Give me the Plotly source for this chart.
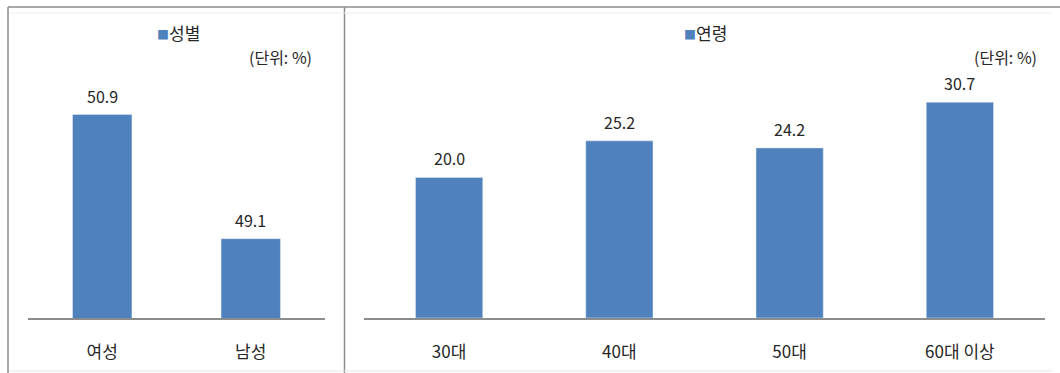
import plotly.graph_objects as go

# Data
gender_labels = ["여성", "남성"]
gender_values = [50.9, 49.1]
age_labels = ["30대", "40대", "50대", "60대 이상"]
age_values = [20.0, 25.2, 24.2, 30.7]

W, H = 1060, 373
BAR = "#4F81BD"
FONT = "Noto Sans CJK KR"
TXT = "#262626"

def px(x):
    return x / W

def py(y):
    return (H - y) / H

fig = go.Figure()
fig.add_trace(go.Bar(
    x=gender_labels, y=gender_values, marker_color=BAR, width=0.4,
    cliponaxis=False, xaxis="x", yaxis="y", showlegend=False, hoverinfo="skip",
))
fig.add_trace(go.Bar(
    x=age_labels, y=age_values, marker_color=BAR, width=0.395,
    cliponaxis=False, xaxis="x2", yaxis="y2", showlegend=False, hoverinfo="skip",
))

ydom = [py(318), py(78)]
axis_common = dict(showgrid=False, zeroline=False, ticks="", showline=False)
xcommon = dict(showline=True, linecolor="#8c8c8c", linewidth=1.5, showgrid=False, ticks="",
               tickfont=dict(size=17, color=TXT), ticklabelstandoff=18)
fig.update_layout(
    width=W, height=H,
    margin=dict(l=0, r=0, t=0, b=0),
    paper_bgcolor="white", plot_bgcolor="white",
    font=dict(family=FONT, color=TXT),
    xaxis=dict(domain=[px(28), px(325)], anchor="y", **xcommon),
    yaxis=dict(domain=ydom, range=[47.95, 51.43], showticklabels=False, anchor="x", **axis_common),
    xaxis2=dict(domain=[px(364), px(1045)], anchor="y2", **xcommon),
    yaxis2=dict(domain=ydom, range=[0, 34.14], showticklabels=False, anchor="x2", **axis_common),
    bargap=0.6,
)

# Borders
shapes = [
    dict(type="line", xref="paper", yref="paper", x0=px(8), x1=1, y0=py(7), y1=py(7),
         line=dict(color="#8c8c8c", width=1.5)),
    dict(type="line", xref="paper", yref="paper", x0=px(8), x1=px(8), y0=py(7), y1=py(373),
         line=dict(color="#8c8c8c", width=1.5)),
    dict(type="line", xref="paper", yref="paper", x0=px(344.5), x1=px(344.5), y0=py(7), y1=py(373),
         line=dict(color="#8c8c8c", width=1.5)),
    dict(type="line", xref="paper", yref="paper", x0=px(9), x1=px(1052), y0=py(13), y1=py(13),
         line=dict(color="#eeeeee", width=1)),
    dict(type="line", xref="paper", yref="paper", x0=px(9), x1=px(1052), y0=py(371), y1=py(371),
         line=dict(color="#e6e6e6", width=1)),
]
fig.update_layout(shapes=shapes)

legend_sq = f"<span style='color:{BAR};font-size:12px'>■</span>"
ann = [
    dict(x=px(178), y=py(33), text=legend_sq + "성별", font=dict(size=17, color=TXT)),
    dict(x=px(314), y=py(57), text="(단위: %)", xanchor="right", font=dict(size=16, color=TXT)),
    dict(x=px(705), y=py(33), text=legend_sq + "연령", font=dict(size=17, color=TXT)),
    dict(x=px(1039), y=py(57), text="(단위: %)", xanchor="right", font=dict(size=16, color=TXT)),
]
for a in ann:
    a.update(xref="paper", yref="paper", showarrow=False, yanchor="middle")
    a.setdefault("xanchor", "center")

# data labels
for cats, vals, xr, yr in [(gender_labels, gender_values, "x", "y"), (age_labels, age_values, "x2", "y2")]:
    for c, v in zip(cats, vals):
        ann.append(dict(x=c, y=v, xref=xr, yref=yr, text=f"{v:.1f}", showarrow=False,
                        yanchor="middle", xanchor="center", yshift=19,
                        font=dict(size=16, color=TXT, family=FONT)))
fig.update_layout(annotations=ann)

fig.write_html("out.html", config={"displayModeBar": False},
               post_script="document.body.style.margin='0';document.body.style.padding='0';")
